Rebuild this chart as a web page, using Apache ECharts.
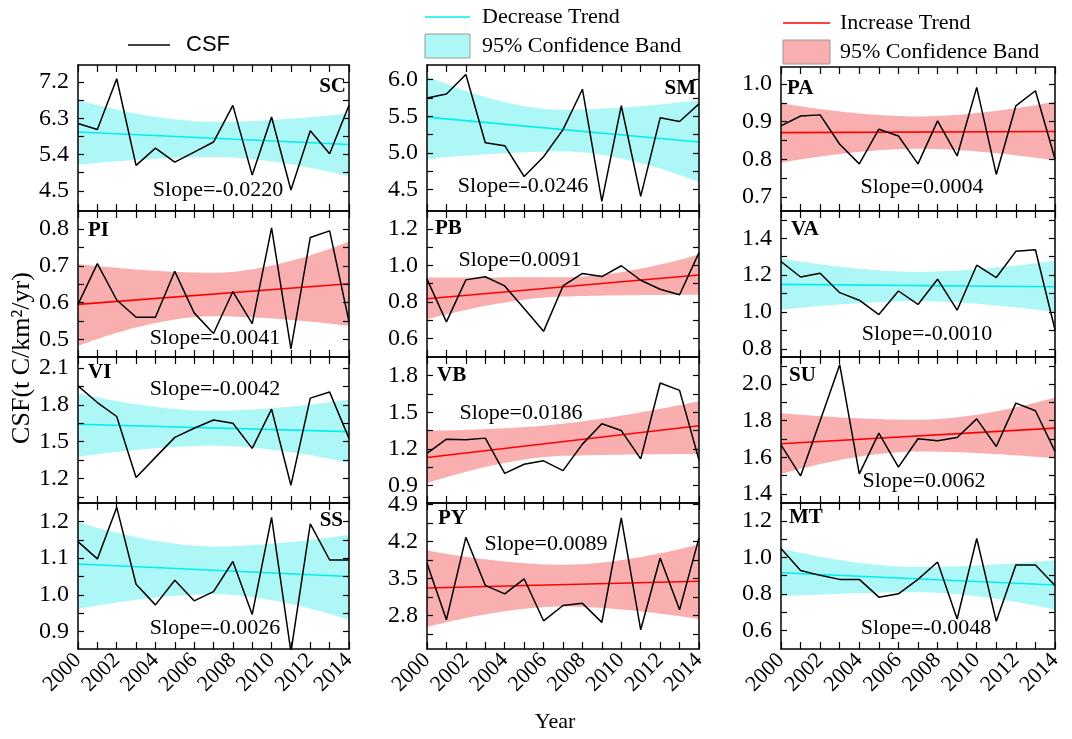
<!DOCTYPE html>
<html><head><meta charset="utf-8">
<script src="https://cdn.jsdelivr.net/npm/echarts@6/dist/echarts.min.js"></script>
<style>html,body{margin:0;padding:0;background:#fff}#c{width:1072px;height:739px}</style>
</head><body><div id="c"></div>
<script>
// ---------------- DATA ----------------
const years = [2000,2001,2002,2003,2004,2005,2006,2007,2008,2009,2010,2011,2012,2013,2014];
const trendYears = [2000, 2014];
const bandYears = [2000, 2007, 2014];
const xTickLabels = ['2000','2002','2004','2006','2008','2010','2012','2014'];

// panel order: row-major (SC SM PA / PI PB VA / VI VB SU / SS PY MT)
const panelNames = ['SC','SM','PA','PI','PB','VA','VI','VB','SU','SS','PY','MT'];
const trendKind = ['dec','dec','inc','inc','inc','dec','dec','inc','inc','dec','inc','dec'];
const slopeLabels = ['Slope=-0.0220','Slope=-0.0246','Slope=0.0004','Slope=-0.0041','Slope=0.0091','Slope=-0.0010',
                     'Slope=-0.0042','Slope=0.0186','Slope=0.0062','Slope=-0.0026','Slope=0.0089','Slope=-0.0048'];

const csfSC = [6.17,6.02,7.28,5.13,5.56,5.21,5.46,5.71,6.62,4.89,6.33,4.52,5.99,5.42,6.62];
const csfSM = [5.75,5.805,6.07,5.14,5.10,4.68,4.95,5.32,5.87,4.34,5.645,4.41,5.48,5.43,5.67];
const csfPA = [0.889,0.915,0.918,0.84,0.788,0.88,0.862,0.788,0.902,0.809,0.991,0.76,0.942,0.982,0.801];
const csfPI = [0.595,0.706,0.607,0.560,0.560,0.685,0.572,0.516,0.630,0.543,0.803,0.474,0.777,0.795,0.548];
const csfPB = [0.925,0.692,0.921,0.938,0.888,0.765,0.640,0.888,0.956,0.939,0.998,0.919,0.870,0.840,1.07];
const csfVA = [1.274,1.19,1.21,1.105,1.064,0.986,1.114,1.041,1.178,1.01,1.254,1.187,1.329,1.338,0.904];
const csfVI = [1.955,1.819,1.705,1.208,1.372,1.535,1.609,1.677,1.650,1.445,1.765,1.145,1.855,1.904,1.527];
const csfVB = [1.165,1.28,1.275,1.289,1.001,1.075,1.103,1.023,1.24,1.406,1.351,1.119,1.74,1.68,1.11];
const csfSU = [1.668,1.498,1.80,2.106,1.509,1.732,1.546,1.701,1.69,1.708,1.81,1.659,1.896,1.854,1.632];
const csfSS = [1.145,1.098,1.238,1.029,0.973,1.040,0.984,1.009,1.091,0.947,1.211,0.845,1.193,1.095,1.095];
const csfPY = [3.79,2.72,4.28,3.37,3.21,3.495,2.70,2.99,3.03,2.67,4.65,2.53,3.89,2.91,4.27];
const csfMT = [1.048,0.929,0.902,0.88,0.88,0.783,0.801,0.88,0.975,0.664,1.103,0.651,0.958,0.958,0.847];

const trendSC = [5.96,5.65],   bandHiSC = [6.75,6.21,6.42],   bandLoSC = [5.15,5.34,4.86];
const trendSM = [5.49,5.15],   bandHiSM = [6.05,5.59,5.72],   bandLoSM = [4.92,5.02,4.60];
const trendPA = [0.871,0.874], bandHiPA = [0.949,0.914,0.953], bandLoPA = [0.791,0.828,0.797];
const trendPI = [0.595,0.651], bandHiPI = [0.705,0.681,0.766], bandLoPI = [0.482,0.563,0.537];
const trendPB = [0.818,0.948], bandHiPB = [0.934,0.935,1.06],  bandLoPB = [0.705,0.83,0.84];
const trendVA = [1.15,1.137],  bandHiVA = [1.292,1.218,1.278], bandLoVA = [1.013,1.059,1.0];
const trendVI = [1.642,1.582], bandHiVI = [1.895,1.751,1.841], bandLoVI = [1.377,1.467,1.328];
const trendVB = [1.13,1.39],   bandHiVB = [1.349,1.406,1.59],  bandLoVB = [0.919,1.144,1.16];
const trendSU = [1.674,1.759], bandHiSU = [1.841,1.805,1.927], bandLoSU = [1.509,1.632,1.595];
const trendSS = [1.084,1.050], bandHiSS = [1.198,1.132,1.164], bandLoSS = [0.962,1.002,0.932];
const trendPY = [3.32,3.45],   bandHiPY = [4.03,3.76,4.15],    bandLoPY = [2.58,2.97,2.73];
const trendMT = [0.916,0.849], bandHiMT = [1.048,0.947,0.984], bandLoMT = [0.788,0.81,0.715];

// y-axis: range, labelled ticks, minor ticks
const yRangeSC = [4.0,7.62],   yMajorSC = [4.5,5.4,6.3,7.2],   yMinorSC = [4.95,5.85,6.75];
const yRangeSM = [4.21,6.2],   yMajorSM = [4.5,5.0,5.5,6.0],   yMinorSM = [4.75,5.25,5.75];
const yRangePA = [0.663,1.045],yMajorPA = [0.7,0.8,0.9,1.0],   yMinorPA = [0.75,0.85,0.95];
const yRangePI = [0.452,0.849],yMajorPI = [0.5,0.6,0.7,0.8],   yMinorPI = [0.55,0.65,0.75];
const yRangePB = [0.5,1.297],  yMajorPB = [0.6,0.8,1.0,1.2],   yMinorPB = [0.7,0.9,1.1];
const yRangeVA = [0.756,1.548],yMajorVA = [0.8,1.0,1.2,1.4],   yMinorVA = [0.9,1.1,1.3,1.5];
const yRangeVI = [1.0,2.19],   yMajorVI = [1.2,1.5,1.8,2.1],   yMinorVI = [1.05,1.35,1.65,1.95];
const yRangeVB = [0.758,1.953],yMajorVB = [0.9,1.2,1.5,1.8],   yMinorVB = [1.05,1.35,1.65];
const yRangeSU = [1.35,2.148], yMajorSU = [1.4,1.6,1.8,2.0],   yMinorSU = [1.5,1.7,1.9,2.1];
const yRangeSS = [0.853,1.25], yMajorSS = [0.9,1.0,1.1,1.2],   yMinorSS = [0.95,1.05,1.15];
const yRangePY = [2.166,4.93], yMajorPY = [2.8,3.5,4.2,4.9],   yMinorPY = [2.45,3.15,3.85,4.55];
const yRangeMT = [0.5,1.297],  yMajorMT = [0.6,0.8,1.0,1.2],   yMinorMT = [0.7,0.9,1.1];

// ---------------- LAYOUT ----------------
const colLeft = [78, 427, 781];
const colW = [271, 272, 274];
const rowTop = [65, 211, 357, 503];
const rowH = 146;
const namePos = [[346,87,'right'],[696,89,'right'],[787,89,'left'],
                 [88,231,'left'],[435,229,'left'],[791,230,'left'],
                 [88,373,'left'],[437,376,'left'],[789,376,'left'],
                 [343,521,'right'],[438,519,'left'],[789,518,'left']];
const slopePos = [[218,190],[523,186],[922,187],[215,338],[520,260],[927,334],
                  [215,389],[521,413],[924,481],[215,628],[546,544],[926,628]];

const SERIF = "'Liberation Serif','Times New Roman',serif";
const CYAN = '#00eeee', CYAN_BAND = '#aef7f7';
const RED = '#ff0000', RED_BAND = '#f9afaf';

const panels = [
  [csfSC,trendSC,bandHiSC,bandLoSC,yRangeSC,yMajorSC,yMinorSC],
  [csfSM,trendSM,bandHiSM,bandLoSM,yRangeSM,yMajorSM,yMinorSM],
  [csfPA,trendPA,bandHiPA,bandLoPA,yRangePA,yMajorPA,yMinorPA],
  [csfPI,trendPI,bandHiPI,bandLoPI,yRangePI,yMajorPI,yMinorPI],
  [csfPB,trendPB,bandHiPB,bandLoPB,yRangePB,yMajorPB,yMinorPB],
  [csfVA,trendVA,bandHiVA,bandLoVA,yRangeVA,yMajorVA,yMinorVA],
  [csfVI,trendVI,bandHiVI,bandLoVI,yRangeVI,yMajorVI,yMinorVI],
  [csfVB,trendVB,bandHiVB,bandLoVB,yRangeVB,yMajorVB,yMinorVB],
  [csfSU,trendSU,bandHiSU,bandLoSU,yRangeSU,yMajorSU,yMinorSU],
  [csfSS,trendSS,bandHiSS,bandLoSS,yRangeSS,yMajorSS,yMinorSS],
  [csfPY,trendPY,bandHiPY,bandLoPY,yRangePY,yMajorPY,yMinorPY],
  [csfMT,trendMT,bandHiMT,bandLoMT,yRangeMT,yMajorMT,yMinorMT]
];

const grid = [], xAxis = [], yAxis = [], series = [], graphic = [];
const axisLineStyle = {color:'#000', width:1.5};
const tickStyle = {color:'#000', width:1.2};

panels.forEach((p, i) => {
  const [csf, trend, hi, lo, yr, ymaj, ymin] = p;
  const r = Math.floor(i / 3), c = i % 3;
  const top = rowTop[r] + (r === 0 && c === 2 ? 2 : 0);
  const h = rowTop[r] + rowH - top;
  grid.push({left: colLeft[c], top: top, width: colW[c], height: h, show: false});
  const xBase = {gridIndex: i, type: 'value', min: 2000, max: 2014, interval: 1, z: 10,
    axisLine: {show: true, onZero: false, lineStyle: axisLineStyle},
    axisTick: {show: true, inside: true, length: 7, lineStyle: tickStyle},
    splitLine: {show: false}};
  xAxis.push(Object.assign({}, xBase, {position: 'bottom',
    axisLabel: {show: r === 3, rotate: 45, margin: 8, color: '#000', fontFamily: SERIF, fontSize: 22,
      formatter: v => xTickLabels.indexOf(String(v)) >= 0 ? String(v) : ''}}));
  xAxis.push(Object.assign({}, xBase, {position: 'top', axisLabel: {show: false}}));
  const allTicks = ymaj.concat(ymin);
  const yBase = {gridIndex: i, type: 'value', min: yr[0], max: yr[1], z: 10,
    axisLine: {show: true, onZero: false, lineStyle: axisLineStyle},
    axisTick: {show: true, inside: true, length: 6, lineStyle: tickStyle, customValues: allTicks},
    splitLine: {show: false}};
  yAxis.push(Object.assign({}, yBase, {position: 'left',
    axisLabel: {show: true, customValues: ymaj, margin: 9, color: '#000', fontFamily: SERIF, fontSize: 24,
      formatter: v => v.toFixed(1)}}));
  yAxis.push(Object.assign({}, yBase, {position: 'right', axisLabel: {show: false}}));

  const inc = trendKind[i] === 'inc';
  const common = {xAxisIndex: 2 * i, yAxisIndex: 2 * i, symbol: 'none', silent: true, animation: false};
  series.push(Object.assign({}, common, {type: 'line', smooth: 0.45,
    data: bandYears.map((y, k) => [y, hi[k]]),
    lineStyle: {opacity: 0}, areaStyle: {color: inc ? RED_BAND : CYAN_BAND, opacity: 1, origin: 'start'}}));
  series.push(Object.assign({}, common, {type: 'line', smooth: 0.45,
    data: bandYears.map((y, k) => [y, lo[k]]),
    lineStyle: {opacity: 0}, areaStyle: {color: '#ffffff', opacity: 1, origin: 'start'}}));
  series.push(Object.assign({}, common, {type: 'line',
    data: trendYears.map((y, k) => [y, trend[k]]),
    lineStyle: {color: inc ? RED : CYAN, width: 1.6}}));
  series.push(Object.assign({}, common, {type: 'line',
    data: years.map((y, k) => [y, csf[k]]),
    lineStyle: {color: '#000', width: 1.5}}));

  graphic.push({type: 'text', x: namePos[i][0], y: namePos[i][1], z: 100,
    style: {text: panelNames[i], align: namePos[i][2], textAlign: namePos[i][2], verticalAlign: 'middle', textVerticalAlign: 'middle',
      font: "bold 21px " + SERIF, fill: '#000'}});
  graphic.push({type: 'text', x: slopePos[i][0], y: slopePos[i][1], z: 100,
    style: {text: slopeLabels[i], align: 'center', textAlign: 'center', verticalAlign: 'middle', textVerticalAlign: 'middle',
      font: "22px " + SERIF, fill: '#000'}});
});

// legends and axis titles
function txt(x, y, s, font, align, rot) {
  return {type: 'text', x: x, y: y, rotation: rot || 0, z: 100,
    style: {text: s, align: align || 'left', textAlign: align || 'left', verticalAlign: 'middle', textVerticalAlign: 'middle', font: font, fill: '#000'}};
}
graphic.push({type: 'line', shape: {x1: 128, y1: 45, x2: 170, y2: 45}, style: {stroke: '#000', lineWidth: 1.5}});
graphic.push(txt(186, 45, 'CSF', "22px 'Liberation Sans',Arial,sans-serif"));
graphic.push({type: 'line', shape: {x1: 425, y1: 17, x2: 470, y2: 17}, style: {stroke: CYAN, lineWidth: 1.6}});
graphic.push(txt(482, 17, 'Decrease Trend', "22px " + SERIF));
graphic.push({type: 'rect', shape: {x: 425, y: 34, width: 45, height: 24}, style: {fill: CYAN_BAND, stroke: '#9a9a9a', lineWidth: 1}});
graphic.push(txt(482, 46, '95% Confidence Band', "22px " + SERIF));
graphic.push({type: 'line', shape: {x1: 783, y1: 23, x2: 830, y2: 23}, style: {stroke: RED, lineWidth: 1.6}});
graphic.push(txt(840, 23, 'Increase Trend', "22px " + SERIF));
graphic.push({type: 'rect', shape: {x: 783, y: 40, width: 47, height: 24}, style: {fill: RED_BAND, stroke: '#9a9a9a', lineWidth: 1}});
graphic.push(txt(840, 52, '95% Confidence Band', "22px " + SERIF));
graphic.push(txt(555, 722, 'Year', "22px " + SERIF, 'center'));
graphic.push(txt(22, 358, 'CSF(t C/km²/yr)', "26px " + SERIF, 'center', Math.PI / 2));

const chart = echarts.init(document.getElementById('c'), null, {renderer: 'canvas'});
chart.setOption({animation: false, backgroundColor: '#fff', grid, xAxis, yAxis, series, graphic});
</script>
</body></html>
